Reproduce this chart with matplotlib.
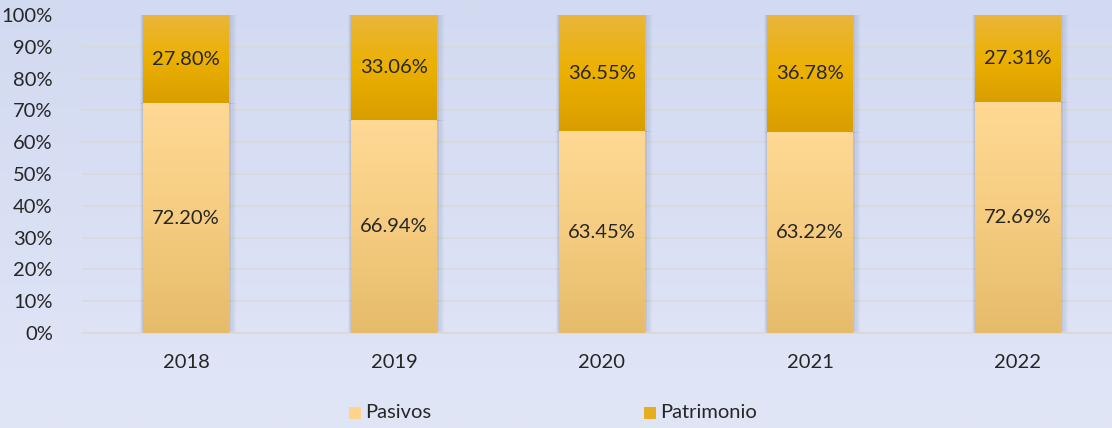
import matplotlib.pyplot as plt
import numpy as np
from matplotlib.colors import LinearSegmentedColormap
from matplotlib.patches import Rectangle

plt.rcParams['font.family'] = ['Lato', 'DejaVu Sans']

years = ['2018', '2019', '2020', '2021', '2022']
pasivos = [72.20, 66.94, 63.45, 63.22, 72.69]
patrimonio = [27.80, 33.06, 36.55, 36.78, 27.31]

fig = plt.figure(figsize=(11.12, 4.28), dpi=100)

# background gradient
bg = fig.add_axes([0, 0, 1, 1], zorder=-10)
bg_cmap = LinearSegmentedColormap.from_list('bg', ['#e1e6f7', '#d2daf1'])
bg.imshow(np.linspace(0, 1, 256).reshape(-1, 1), aspect='auto', cmap=bg_cmap,
          origin='lower', extent=[0, 1, 0, 1])
bg.axis('off')

ax = fig.add_axes([82 / 1112, (428 - 333) / 428, 1030 / 1112, 318 / 428])
ax.patch.set_alpha(0)

x = np.arange(len(years))
width = 0.41
pas_cmap = LinearSegmentedColormap.from_list('pas', ['#e6bb6a', '#f5cc80', '#ffd995'])
pat_cmap = LinearSegmentedColormap.from_list('pat', ['#d89e00', '#ecb000', '#eab63c'])

def grad_bars(bottoms, heights, cmap):
    bars = ax.bar(x, heights, width, bottom=bottoms, color='none', zorder=3)
    for b in bars:
        x0, y0 = b.get_x(), b.get_y()
        w, h = b.get_width(), b.get_height()
        # soft shadow
        for k, a in enumerate([0.12, 0.08, 0.05]):
            d = 0.010 * (k + 1)
            ax.add_patch(Rectangle((x0 - d * 0.6, y0 - 0.3), w + d * 1.8, h + 0.3,
                                   facecolor='#5a6380', edgecolor='none', alpha=a, zorder=2))
        im = ax.imshow(np.linspace(0, 1, 256).reshape(-1, 1), aspect='auto', cmap=cmap,
                       origin='lower', extent=[x0, x0 + w, y0, y0 + h], zorder=3)
        clip = Rectangle((x0, y0), w, h, transform=ax.transData)
        im.set_clip_path(clip)
    return bars

grad_bars([0] * 5, pasivos, pas_cmap)
grad_bars(pasivos, patrimonio, pat_cmap)

for i in range(len(years)):
    ax.text(x[i], pasivos[i] / 2, f'{pasivos[i]:.2f}%', ha='center', va='center',
            fontsize=14.5, color='#262626', zorder=5)
    ax.text(x[i], pasivos[i] + patrimonio[i] / 2, f'{patrimonio[i]:.2f}%', ha='center',
            va='center', fontsize=14.5, color='#262626', zorder=5)

ax.set_xlim(-0.5, 4.452)
ax.set_ylim(0, 100)
ax.set_yticks(np.arange(0, 101, 10))
ax.set_yticklabels([f'{v}%' for v in range(0, 101, 10)])
ax.set_xticks(x)
ax.set_xticklabels(years)
ax.yaxis.grid(True, color='#d9d9d9', linewidth=1.2, zorder=0)
ax.set_axisbelow(True)
for s in ['top', 'right', 'left']:
    ax.spines[s].set_visible(False)
ax.spines['bottom'].set_color('#d9d9d9')
ax.spines['bottom'].set_linewidth(1.2)
ax.tick_params(axis='both', length=0, labelsize=14.5, colors='#262626')
ax.tick_params(axis='y', pad=21)
ax.tick_params(axis='x', pad=15)

fig.text(365 / 1112, 1 - 413 / 428, 'Pasivos', fontsize=14.5, color='#262626', va='center')
fig.text(660 / 1112, 1 - 413 / 428, 'Patrimonio', fontsize=14.5, color='#262626', va='center')
fig.patches.append(Rectangle((349 / 1112, 1 - 419 / 428), 12 / 1112, 12 / 428,
                             facecolor='#fcd48c', transform=fig.transFigure, figure=fig))
fig.patches.append(Rectangle((644 / 1112, 1 - 419 / 428), 12 / 1112, 12 / 428,
                             facecolor='#e6ad1e', transform=fig.transFigure, figure=fig))

fig.savefig('out.png', dpi=100)
